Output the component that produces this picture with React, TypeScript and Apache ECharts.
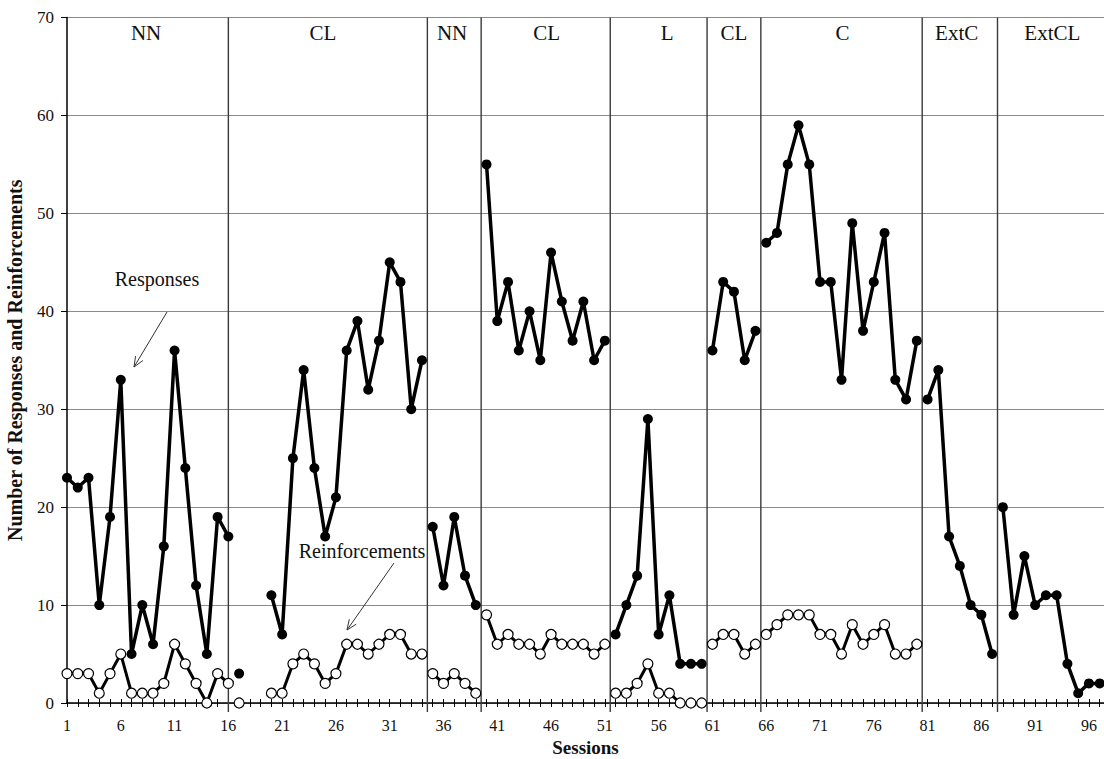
import React, { useEffect, useRef } from "react";
import * as echarts from "echarts";

// Phase layout
const PHASE_NAMES = ["NN", "CL", "NN", "CL", "L", "CL", "C", "ExtC", "ExtCL"];
const PHASE_STARTS = [1, 17, 35, 40, 52, 61, 66, 81, 88];
const PHASE_BOUNDARIES = [16, 34.5, 39.5, 51.5, 60.5, 65.5, 80.5, 87.5];
const PHASE_LABEL_SESSIONS = [8.35, 24.8, 36.8, 45.6, 56.8, 63.0, 73.1, 83.7, 92.6];
const PHASE_LABEL_LEVEL = 68.4;

// Responses per phase (null = no session recorded)
const responsesNN1 = [23, 22, 23, 10, 19, 33, 5, 10, 6, 16, 36, 24, 12, 5, 19, 17];
const responsesCL1 = [3, null, null, 11, 7, 25, 34, 24, 17, 21, 36, 39, 32, 37, 45, 43, 30, 35];
const responsesNN2 = [18, 12, 19, 13, 10];
const responsesCL2 = [55, 39, 43, 36, 40, 35, 46, 41, 37, 41, 35, 37];
const responsesL = [7, 10, 13, 29, 7, 11, 4, 4, 4];
const responsesCL3 = [36, 43, 42, 35, 38];
const responsesC = [47, 48, 55, 59, 55, 43, 43, 33, 49, 38, 43, 48, 33, 31, 37];
const responsesExtC = [31, 34, 17, 14, 10, 9, 5];
const responsesExtCL = [20, 9, 15, 10, 11, 11, 4, 1, 2, 2];

// Reinforcements per phase (none delivered during extinction)
const reinforcementsNN1 = [3, 3, 3, 1, 3, 5, 1, 1, 1, 2, 6, 4, 2, 0, 3, 2];
const reinforcementsCL1 = [0, null, null, 1, 1, 4, 5, 4, 2, 3, 6, 6, 5, 6, 7, 7, 5, 5];
const reinforcementsNN2 = [3, 2, 3, 2, 1];
const reinforcementsCL2 = [9, 6, 7, 6, 6, 5, 7, 6, 6, 6, 5, 6];
const reinforcementsL = [1, 1, 2, 4, 1, 1, 0, 0, 0];
const reinforcementsCL3 = [6, 7, 7, 5, 6];
const reinforcementsC = [7, 8, 9, 9, 9, 7, 7, 5, 8, 6, 7, 8, 5, 5, 6];
const reinforcementsExtC: (number | null)[] = [];
const reinforcementsExtCL: (number | null)[] = [];

const Y_TICKS = [0, 10, 20, 30, 40, 50, 60, 70];
const X_LABEL_EVERY = 5;

const RESPONSES = [
  responsesNN1, responsesCL1, responsesNN2, responsesCL2, responsesL,
  responsesCL3, responsesC, responsesExtC, responsesExtCL,
];
const REINFORCEMENTS = [
  reinforcementsNN1, reinforcementsCL1, reinforcementsNN2, reinforcementsCL2, reinforcementsL,
  reinforcementsCL3, reinforcementsC, reinforcementsExtC, reinforcementsExtCL,
];

const SERIF = '"Liberation Serif", "Times New Roman", serif';

function arrow(x1: number, y1: number, x2: number, y2: number) {
  const ang = Math.atan2(y2 - y1, x2 - x1);
  const len = 11;
  const spread = 0.4;
  const p1 = [x2 - len * Math.cos(ang - spread), y2 - len * Math.sin(ang - spread)];
  const p2 = [x2 - len * Math.cos(ang + spread), y2 - len * Math.sin(ang + spread)];
  return [
    { type: "line", shape: { x1, y1, x2, y2 }, style: { stroke: "#333", lineWidth: 1 }, z: 50 },
    {
      type: "polyline",
      shape: { points: [p1, [x2, y2], p2] },
      style: { stroke: "#333", lineWidth: 1, fill: null },
      z: 50,
    },
  ];
}

export default function App() {
  const ref = useRef<HTMLDivElement>(null);

  useEffect(() => {
    if (!ref.current) return;
    const chart = echarts.init(ref.current, null, { renderer: "svg" });

    const toPoints = (vals: (number | null)[], start: number) =>
      vals.map((v, k) => [start + k, v === null ? "-" : v]);

    const series: any[] = [];
    PHASE_NAMES.forEach((_, i) => {
      const start = PHASE_STARTS[i];
      if (REINFORCEMENTS[i].length) {
        series.push({
          name: "Reinforcements",
          type: "line",
          data: toPoints(REINFORCEMENTS[i], start),
          symbol: "circle",
          symbolSize: 10,
          showAllSymbol: true,
          connectNulls: false,
          lineStyle: { color: "#000", width: 3 },
          itemStyle: { color: "#fff", borderColor: "#000", borderWidth: 1.2 },
          z: 3,
        });
      }
      series.push({
        name: "Responses",
        type: "line",
        data: toPoints(RESPONSES[i], start),
        symbol: "circle",
        symbolSize: 10,
        showAllSymbol: true,
        connectNulls: false,
        lineStyle: { color: "#000", width: 3.5 },
        itemStyle: { color: "#000", borderColor: "#000", borderWidth: 0 },
        z: 4,
      });
    });

    // Phase change lines, running a little below the session axis
    series.push({
      type: "custom",
      data: PHASE_BOUNDARIES.map((b) => [b, 0]),
      encode: { x: 0, y: 1 },
      z: 2,
      silent: true,
      renderItem: (_p: any, api: any) => {
        const top = api.coord([api.value(0), Y_TICKS[Y_TICKS.length - 1]]);
        const bottom = api.coord([api.value(0), 0]);
        return {
          type: "line",
          shape: { x1: top[0], y1: top[1], x2: bottom[0], y2: bottom[1] + 9 },
          style: { stroke: "#3a3a3a", lineWidth: 1.4 },
        };
      },
    });

    // Phase names
    series.push({
      type: "custom",
      data: PHASE_LABEL_SESSIONS.map((s) => [s, PHASE_LABEL_LEVEL]),
      encode: { x: 0, y: 1 },
      z: 5,
      silent: true,
      renderItem: (p: any, api: any) => {
        const pt = api.coord([api.value(0), api.value(1)]);
        return {
          type: "text",
          x: pt[0],
          y: pt[1],
          style: {
            text: PHASE_NAMES[p.dataIndex],
            textAlign: "center",
            textVerticalAlign: "middle",
            font: `21px ${SERIF}`,
            fill: "#111",
          },
        };
      },
    });

    const xAxisBase = {
      type: "value",
      min: 1,
      max: 97.4,
      interval: 1,
      gridIndex: 0,
      position: "bottom",
      splitLine: { show: false },
    };

    chart.setOption({
      animation: false,
      backgroundColor: "#fff",
      grid: {
        left: 67,
        right: 0,
        top: 17.5,
        bottom: 56,
        containLabel: false,
        outerBoundsMode: "none",
      },
      xAxis: [
        {
          ...xAxisBase,
          name: "Sessions",
          nameLocation: "middle",
          nameGap: 35,
          nameTextStyle: { fontFamily: SERIF, fontWeight: "bold", fontSize: 19, color: "#111" },
          axisLine: { show: true, lineStyle: { color: "#000", width: 1.5 } },
          axisTick: { show: true, inside: false, length: 4, lineStyle: { color: "#000", width: 1 } },
          axisLabel: {
            show: true,
            margin: 14,
            fontFamily: SERIF,
            fontSize: 16,
            color: "#111",
            showMaxLabel: false,
            formatter: (v: number) => {
              const r = Math.round(v);
              return Math.abs(v - r) < 1e-6 && (r - 1) % X_LABEL_EVERY === 0 ? String(r) : "";
            },
          },
        },
        {
          ...xAxisBase,
          axisLine: { show: false },
          axisTick: { show: true, inside: true, length: 4, lineStyle: { color: "#000", width: 1 } },
          axisLabel: { show: false },
        },
      ],
      yAxis: {
        type: "value",
        min: Y_TICKS[0],
        max: Y_TICKS[Y_TICKS.length - 1],
        interval: 10,
        name: "Number of Responses and Reinforcements",
        nameLocation: "middle",
        nameRotate: 90,
        nameGap: 42,
        nameTextStyle: { fontFamily: SERIF, fontWeight: "bold", fontSize: 20, color: "#111" },
        axisLine: { show: true, lineStyle: { color: "#000", width: 1.5 } },
        axisTick: { show: true, inside: false, length: 6, lineStyle: { color: "#000", width: 1 } },
        axisLabel: { margin: 13, fontFamily: SERIF, fontSize: 17, color: "#111" },
        splitLine: { show: true, lineStyle: { color: "#8a8a8a", width: 1 } },
      },
      graphic: [
        {
          type: "text",
          x: 157,
          y: 279,
          z: 50,
          style: {
            text: "Responses",
            textAlign: "center",
            textVerticalAlign: "middle",
            font: `20px ${SERIF}`,
            fill: "#111",
          },
        },
        ...arrow(167, 312, 134, 367),
        {
          type: "text",
          x: 362,
          y: 551,
          z: 50,
          style: {
            text: "Reinforcements",
            textAlign: "center",
            textVerticalAlign: "middle",
            font: `20px ${SERIF}`,
            fill: "#111",
          },
        },
        ...arrow(394, 563, 347, 630),
      ],
      series,
    });

    return () => chart.dispose();
  }, []);

  return (
    <div
      ref={ref}
      style={{ position: "absolute", left: 0, top: 0, width: 1104, height: 759, background: "#fff" }}
    />
  );
}
